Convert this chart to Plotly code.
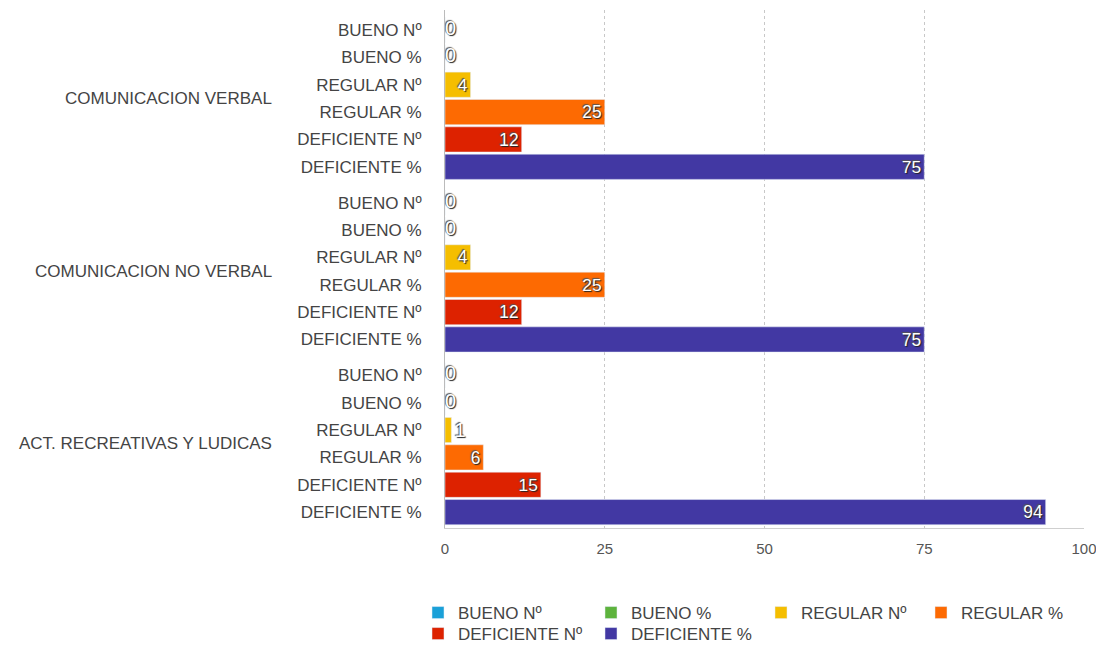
# Horizontal bar chart of evaluation results per area
import plotly.graph_objects as go

# Areas evaluated (one block of bars each)
groups = ["COMUNICACION VERBAL", "COMUNICACION NO VERBAL", "ACT. RECREATIVAS Y LUDICAS"]

# Series names, shown as row labels inside every block and in the legend
series = ["BUENO Nº", "BUENO %", "REGULAR Nº", "REGULAR %", "DEFICIENTE Nº", "DEFICIENTE %"]

# Values for each series, one per area
bueno_n = [0, 0, 0]
bueno_pct = [0, 0, 0]
regular_n = [4, 4, 1]
regular_pct = [25, 25, 6]
deficiente_n = [12, 12, 15]
deficiente_pct = [75, 75, 94]

# x axis ticks
x_ticks = [0, 25, 50, 75, 100]

# Colours for each series
_COLORS = ["#1aa0d8", "#5db33d", "#f5be00", "#fd6a02", "#dd2200", "#4238a3"]

_TEXT_COLOR = "#444444"
_FONT = "Liberation Sans, Arial, sans-serif"
_LABEL_FONT = dict(color = "white", size = 20, family = _FONT,
	shadow = "1px 1px 1px #222, -1px -1px 1px #555")

# Figure size (the page adds an 8px body margin around it)
_WIDTH = 1088
_HEIGHT = 638

# Extra space between blocks, in rows
_GROUP_GAP = 0.31

# Legend each series goes to (legend rows are split in three pairs)
_LEGEND_IDS = ["legend", "legend", "legend2", "legend2", "legend3", "legend3"]

values = [bueno_n, bueno_pct, regular_n, regular_pct, deficiente_n, deficiente_pct]
block = len(series) + _GROUP_GAP


def rowPosition(g, i):
	return g * block + i


fig = go.Figure()

for i, name in enumerate(series):
	fig.add_trace(go.Bar(
		name = name,
		orientation = "h",
		x = values[i],
		y = [rowPosition(g, i) for g in range(len(groups))],
		width = 0.92,
		marker_color = _COLORS[i],
		text = [str(v) if v else "" for v in values[i]],
		textposition = "auto",
		textangle = 0,
		textfont = _LABEL_FONT,
		cliponaxis = False,
		legend = _LEGEND_IDS[i],
	))

# Zero bars have no width, so their labels are drawn as plain text at the axis
zero_x = []
zero_y = []
for i in range(len(series)):
	for g in range(len(groups)):
		if values[i][g] == 0:
			zero_x.append(values[i][g])
			zero_y.append(rowPosition(g, i))

fig.add_trace(go.Scatter(
	x = zero_x,
	y = zero_y,
	mode = "text",
	text = [str(v) for v in zero_x],
	textposition = "middle right",
	textfont = _LABEL_FONT,
	showlegend = False,
	hoverinfo = "skip",
	cliponaxis = False,
))

# Row labels on the y axis
tick_vals = []
tick_text = []
for g in range(len(groups)):
	for i, name in enumerate(series):
		tick_vals.append(rowPosition(g, i))
		tick_text.append(name)

# Block labels to the left of the row labels
for g, label in enumerate(groups):
	fig.add_annotation(
		text = label,
		xref = "paper",
		yref = "y",
		x = -0.268,
		y = rowPosition(g, (len(series) - 1) / 2),
		xanchor = "right",
		yanchor = "middle",
		showarrow = False,
		font = dict(size = 17, color = _TEXT_COLOR, family = _FONT),
	)

last = rowPosition(len(groups) - 1, len(series) - 1)

fig.update_xaxes(
	range = [0, 100],
	tickvals = x_ticks,
	showgrid = True,
	gridcolor = "#c8c8c8",
	griddash = "dot",
	zeroline = False,
	showline = True,
	linecolor = "#cfcfcf",
	ticks = "",
	automargin = False,
	ticklabelstandoff = 7,
	ticklabeloverflow = "allow",
	tickfont = dict(size = 15, color = "#555555", family = _FONT),
)
fig.update_yaxes(
	range = [last + 0.58, -0.73],
	tickvals = tick_vals,
	ticktext = tick_text,
	showgrid = False,
	zeroline = False,
	showline = True,
	linecolor = "#bbbbbb",
	ticks = "",
	automargin = False,
	ticklabelstandoff = 19,
	tickfont = dict(size = 17, color = _TEXT_COLOR, family = _FONT),
)

_LEGEND_FONT = dict(size = 17, color = _TEXT_COLOR, family = _FONT)


def legendBox(x, top, entrywidth):
	return dict(
		orientation = "h",
		xref = "container",
		yref = "container",
		x = x / _WIDTH,
		y = 1 - top / _HEIGHT,
		xanchor = "left",
		yanchor = "top",
		entrywidth = entrywidth,
		bgcolor = "rgba(0,0,0,0)",
		font = _LEGEND_FONT,
		traceorder = "normal",
	)


fig.update_layout(
	width = _WIDTH,
	height = _HEIGHT,
	barmode = "overlay",
	plot_bgcolor = "white",
	paper_bgcolor = "white",
	margin = {"l": 437, "r": 12, "t": 2, "b": 118},
	legend = legendBox(410, 587, 128),
	legend2 = legendBox(753, 587, 115),
	legend3 = legendBox(410, 608, 128),
)

fig.write_html("out.html")
